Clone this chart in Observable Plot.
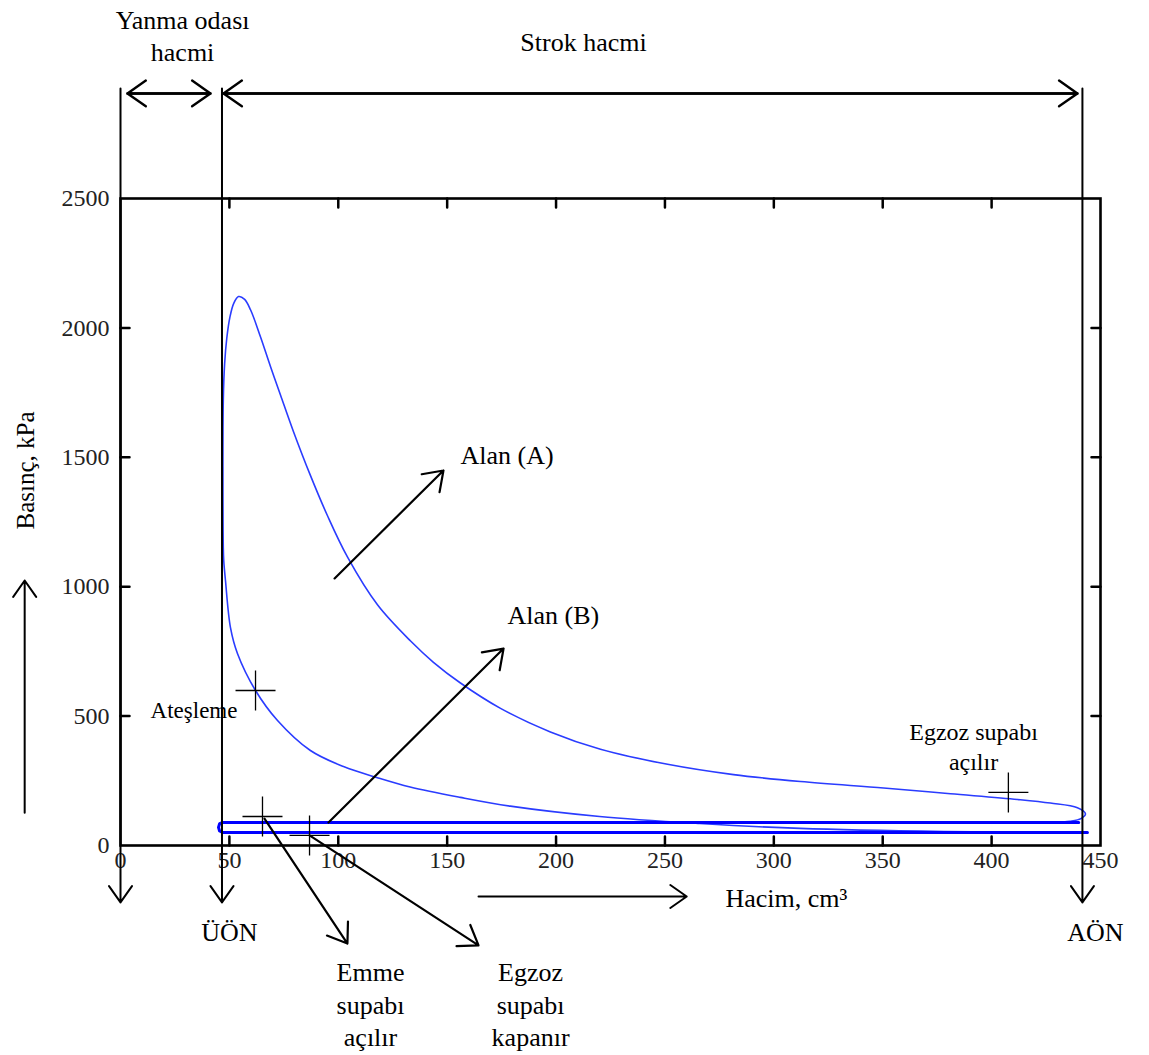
<!DOCTYPE html>
<html>
<head>
<meta charset="utf-8">
<script src="https://cdn.jsdelivr.net/npm/d3@7"></script>
<script src="https://cdn.jsdelivr.net/npm/@observablehq/plot@0.6"></script>
<style>
  body { margin: 0; background: #ffffff; }
</style>
</head>
<body>
<div id="chart"></div>
<script>
// ---- axis ticks ----
const xTicks = [0, 50, 100, 150, 200, 250, 300, 350, 400, 450];
const yTicks = [0, 500, 1000, 1500, 2000, 2500];
const xInnerTicks = [50, 100, 150, 200, 250, 300, 350, 400];
const yInnerTicks = [500, 1000, 1500, 2000];

// ---- cycle: compression (from BDC), combustion, expansion (volume cm3, pressure kPa) ----
const cycleV = [444, 378, 312, 266, 220, 179, 156, 133, 118, 102.4, 87.2, 72.1, 62, 53.7, 50.5, 48.2, 47.4, 47.2,
                47.2, 47.8, 48.8, 50.2, 52, 54.2, 57, 59.7, 64.3, 68.9, 73.5, 79.4, 87.2, 95.0, 104.2, 118.0, 133.2, 143.7,
                156.1, 174.5, 197.4, 220.4, 251.2, 281.5, 312.2, 350.4, 381.1, 411.9, 427, 439.4, 443.1, 441, 436, 428];
const cycleP = [50, 54, 66, 85, 112, 152, 186, 226, 262, 305, 367, 483, 599, 742, 842, 1024, 1101, 1151,
                1720, 1860, 1960, 2040, 2095, 2121, 2110, 2070, 1965, 1850, 1740, 1600, 1430, 1275, 1115, 930, 790, 708,
                628, 530, 439, 372, 314, 274, 247, 222, 200, 178, 164, 146, 122, 104, 94, 89];

// ---- pumping loop: exhaust stroke then intake stroke ----
const pumpV = [440, 47, 45.5, 45, 45.5, 47, 444];
const pumpP = [89, 89, 84, 70, 56, 50, 50];

// ---- event markers (crosses) ----
const eventV = [62, 65.2, 86.8, 407.7];
const eventP = [599, 112, 39, 205];

// ---- dead-centre boundary lines ----
const boundaryV = [0, 46.6, 441.7];
const boundaryTopP = 2925;
const boundaryTipP = -220;

// ---- double arrows (chamber volume, stroke volume) ----
const spanFromV = [3.2, 47.3];
const spanToV = [41.3, 439.4];
const spanP = 2906;

// ---- pointer arrows: Alan (A), Alan (B), Emme supabı açılır, Egzoz supabı kapanır ----
const pointerX1 = [98.3, 95.5, 66.1, 86.8];
const pointerY1 = [1032, 89, 104, 39];
const pointerX2 = [148.3, 175.9, 104.2, 164.4];
const pointerY2 = [1449, 761, -379, -386];

// ---- axis direction arrows ----
const volArrowV = [164.4, 260];
const volArrowP = -197;
const presArrowV = -44;
const presArrowP = [127, 1024];

// ---- labels ----
const centerLabels = ["Yanma odası\nhacmi", "Strok hacmi", "ÜÖN", "AÖN", "Emme\nsupabı\naçılır", "Egzoz\nsupabı\nkapanır"];
const centerLabelV = [28.5, 212.6, 50, 447.7, 114.8, 188.3];
const centerLabelP = [3134, 3110, -328, -328, -609, -609];
const areaLabels = ["Alan (A)", "Alan (B)"];
const areaLabelV = [156.1, 177.7];
const areaLabelP = [1507, 888];
const ignitionLabel = "Ateşleme";
const ignitionLabelV = 53.7;
const ignitionLabelP = 522;
const exhaustOpenLabel = "Egzoz supabı\naçılır";
const exhaustOpenV = 391.7;
const exhaustOpenP = 386;
const xTitle = "Hacim, cm³";
const xTitleV = 277.8;
const xTitleP = -205;
const yTitle = "Basınç, kPa";
const yTitleV = -43.6;
const yTitleP = 1449;

// ---- build tables ----
const cycle = cycleV.map((v, i) => ({v, p: cycleP[i]}));
const pump = pumpV.map((v, i) => ({v, p: pumpP[i]}));
const events = eventV.map((v, i) => ({v, p: eventP[i]}));
const pointers = pointerX1.map((x1, i) => ({x1, y1: pointerY1[i], x2: pointerX2[i], y2: pointerY2[i]}));
const spans = spanFromV.map((a, i) => ({a, b: spanToV[i]}));
const centers = centerLabels.map((t, i) => ({t, v: centerLabelV[i], p: centerLabelP[i]}));
const areas = areaLabels.map((t, i) => ({t, v: areaLabelV[i], p: areaLabelP[i]}));

const crossSymbol = {
  draw(context, size) {
    const r = Math.sqrt(size / Math.PI);
    context.moveTo(-r, 0); context.lineTo(r, 0);
    context.moveTo(0, -r); context.lineTo(0, r);
  }
};

const serif = "Liberation Serif, Times New Roman, serif";
const thinBlue = "#2a3cff";
const thickBlue = "#0000ff";
const plain = d => String(d);

const chart = Plot.plot({
  width: 1149,
  height: 1055,
  marginLeft: 120,
  marginRight: 49,
  marginTop: 198,
  marginBottom: 210,
  x: {domain: [0, 450]},
  y: {domain: [0, 2500]},
  style: {background: "#ffffff", fontFamily: serif, color: "#000", overflow: "visible"},
  marks: [
    // tick labels
    Plot.axisX(xTicks, {anchor: "bottom", tickSize: 0, tickPadding: 5, tickFormat: plain, fontSize: 24, fontFamily: serif, fill: "#222", label: null}),
    Plot.axisY(yTicks, {anchor: "left", tickSize: 0, tickPadding: 11, tickFormat: plain, fontSize: 24, fontFamily: serif, fill: "#222", label: null}),
    // inward ticks
    Plot.vector(xInnerTicks, {x: d => d, y: 0, length: 9, rotate: 0, anchor: "start", r: 0, stroke: "#000", strokeWidth: 2.5}),
    Plot.vector(xInnerTicks, {x: d => d, y: 2500, length: 9, rotate: 180, anchor: "start", r: 0, stroke: "#000", strokeWidth: 2.5}),
    Plot.vector(yInnerTicks, {x: 0, y: d => d, length: 9, rotate: 90, anchor: "start", r: 0, stroke: "#000", strokeWidth: 2.5}),
    Plot.vector(yInnerTicks, {x: 450, y: d => d, length: 9, rotate: -90, anchor: "start", r: 0, stroke: "#000", strokeWidth: 2.5}),
    // cycle curves
    Plot.line(cycle, {x: "v", y: "p", stroke: thinBlue, strokeWidth: 1.6, curve: "catmull-rom"}),
    Plot.line(pump, {x: "v", y: "p", stroke: thickBlue, strokeWidth: 3, curve: "linear"}),
    // frame
    Plot.frame({stroke: "#000", strokeWidth: 2.6}),
    // boundary lines with downward arrows
    Plot.arrow(boundaryV, {x1: d => d, x2: d => d, y1: boundaryTopP, y2: boundaryTipP, stroke: "#000", strokeWidth: 2, headLength: 15, headAngle: 70}),
    // double arrows at top
    Plot.arrow(spans, {x1: "a", x2: "b", y1: spanP, y2: spanP, stroke: "#000", strokeWidth: 2.4, headLength: 14, headAngle: 70}),
    Plot.arrow(spans, {x1: "b", x2: "a", y1: spanP, y2: spanP, stroke: "#000", strokeWidth: 2.4, headLength: 14, headAngle: 70}),
    // pointer arrows
    Plot.arrow(pointers, {x1: "x1", y1: "y1", x2: "x2", y2: "y2", stroke: "#000", strokeWidth: 2.2, headLength: 15, headAngle: 70}),
    // axis direction arrows
    Plot.arrow([0], {x1: volArrowV[0], x2: volArrowV[1], y1: volArrowP, y2: volArrowP, stroke: "#000", strokeWidth: 2, headLength: 15, headAngle: 70}),
    Plot.arrow([0], {x1: presArrowV, x2: presArrowV, y1: presArrowP[0], y2: presArrowP[1], stroke: "#000", strokeWidth: 2, headLength: 15, headAngle: 70}),
    // event crosses
    Plot.dot(events, {x: "v", y: "p", symbol: crossSymbol, r: 20, stroke: "#000", strokeWidth: 1.3, fill: "none"}),
    // labels
    Plot.text(centers, {x: "v", y: "p", text: "t", fontSize: 26, fontFamily: serif, fill: "#000", lineHeight: 1.25}),
    Plot.text(areas, {x: "v", y: "p", text: "t", textAnchor: "start", fontSize: 26, fontFamily: serif, fill: "#000"}),
    Plot.text([ignitionLabel], {x: ignitionLabelV, y: ignitionLabelP, text: d => d, textAnchor: "end", fontSize: 23, fontFamily: serif, fill: "#000"}),
    Plot.text([exhaustOpenLabel], {x: exhaustOpenV, y: exhaustOpenP, text: d => d, fontSize: 24, fontFamily: serif, fill: "#000", lineHeight: 1.25}),
    Plot.text([xTitle], {x: xTitleV, y: xTitleP, text: d => d, textAnchor: "start", fontSize: 26, fontFamily: serif, fill: "#000"}),
    Plot.text([yTitle], {x: yTitleV, y: yTitleP, text: d => d, rotate: -90, fontSize: 25, fontFamily: serif, fill: "#000"})
  ]
});

document.getElementById("chart").appendChild(chart);
</script>
</body>
</html>
